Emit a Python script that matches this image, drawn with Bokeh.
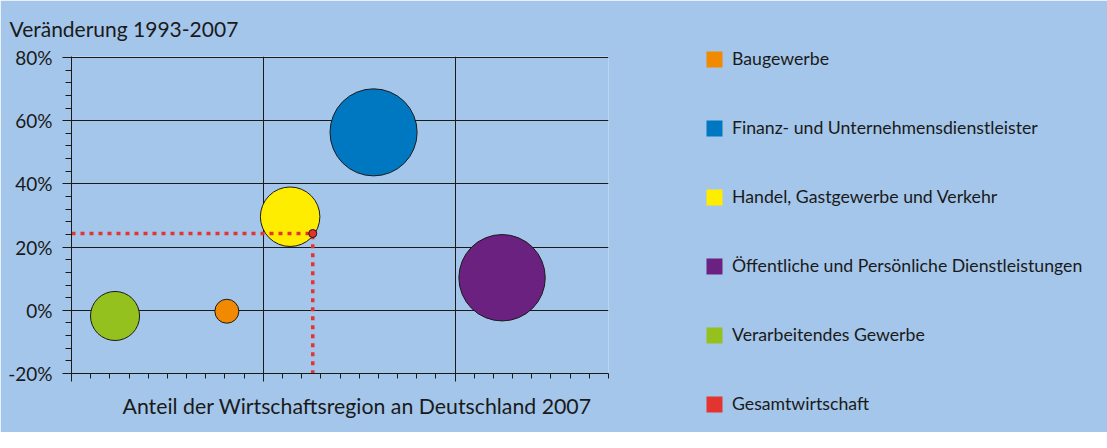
from math import sqrt
from bokeh.plotting import figure
from bokeh.models import (Legend, LegendItem, Title, FixedTicker, PrintfTickFormatter,
                          CustomJSTickFormatter, Range1d)
from bokeh.embed import file_html
from bokeh.resources import INLINE

# ---- data ----
categories = ["Baugewerbe",
              "Finanz- und Unternehmensdienstleister",
              "Handel, Gastgewerbe und Verkehr",
              "Öffentliche und Persönliche Dienstleistungen",
              "Verarbeitendes Gewerbe"]
anteil = [0.81, 1.575, 1.14, 2.245, 0.227]          # x (axis units, unlabeled)
veraenderung = [-0.3, 56.3, 29.6, 10.3, -1.8]       # y (%)
gewicht = [2.7, 35.6, 16.6, 35.0, 11.3]             # bubble weight
colors = ["#f18a00", "#0078c1", "#ffed00", "#6b2180", "#95c11f"]

gesamt_name = "Gesamtwirtschaft"
gesamt_anteil = 1.258
gesamt_veraenderung = 24.3
gesamt_color = "#e3342f"

y_ticks = [-20, 0, 20, 40, 60, 80]
x_ticks = [0, 1, 2]

title_text = "Veränderung 1993-2007"
xlabel_text = "Anteil der Wirtschaftsregion an Deutschland 2007"

BG = "#a4c6ea"
INK = "#1a1a1a"
FONT = "Lato"

p = figure(frame_width=537, frame_height=317,
           x_range=Range1d(0, 2.8), y_range=Range1d(-20, 80.3),
           output_backend="svg", toolbar_location=None,
           min_border_left=71, min_border_right=483, min_border_top=56, min_border_bottom=59,
           background_fill_color=BG, border_fill_color=BG, outline_line_color=None)

# axes
p.xaxis.ticker = FixedTicker(ticks=x_ticks, minor_ticks=[i / 10 for i in range(29)])
p.xaxis.formatter = CustomJSTickFormatter(code="return ''")
p.xaxis.major_tick_out = 8
p.xaxis.major_tick_in = 0
p.xaxis.minor_tick_out = 5
p.xaxis.minor_tick_in = 0
p.xaxis.major_label_text_font_size = "1px"
p.yaxis.ticker = FixedTicker(ticks=y_ticks, minor_ticks=list(range(-20, 81, 4)))
p.yaxis.formatter = PrintfTickFormatter(format="%d%%")
p.yaxis.major_tick_out = 9
p.yaxis.major_tick_in = 0
p.yaxis.minor_tick_out = 6
p.yaxis.minor_tick_in = 0
p.yaxis.major_label_standoff = 10
p.yaxis.major_label_text_font = FONT
p.yaxis.major_label_text_font_size = "19px"
p.yaxis.major_label_text_color = INK
for ax in (p.xaxis, p.yaxis):
    ax.axis_line_color = INK
    ax.major_tick_line_color = INK
    ax.minor_tick_line_color = INK

p.xgrid.ticker = FixedTicker(ticks=x_ticks)
p.ygrid.ticker = FixedTicker(ticks=y_ticks)
p.grid.grid_line_color = INK
p.grid.grid_line_width = 1

# legend swatch renderers (zero-area quads sitting under each point)
swatches = []
for xv, yv, c in zip(anteil + [gesamt_anteil], veraenderung + [gesamt_veraenderung],
                     colors + [gesamt_color]):
    swatches.append(p.quad(left=[xv], right=[xv], top=[yv], bottom=[yv],
                           fill_color=c, line_color=None))

# bubbles
sizes = [14.6 * sqrt(w) for w in gewicht]
p.scatter(x=anteil, y=veraenderung, size=sizes, fill_color=colors,
          line_color=INK, line_width=1)

# dotted reference lines to Gesamtwirtschaft
p.line(x=[p.x_range.start, gesamt_anteil, gesamt_anteil],
       y=[gesamt_veraenderung, gesamt_veraenderung, p.y_range.start],
       line_color=gesamt_color, line_width=3.5, line_dash="4 5")
p.scatter(x=[gesamt_anteil], y=[gesamt_veraenderung], size=8,
          fill_color=gesamt_color, line_color=INK, line_width=1)

# category legend in the right panel
items = [LegendItem(label=n, renderers=[r])
         for n, r in zip(categories + [gesamt_name], swatches)]
legend = Legend(items=items, location=(96, -41), orientation="vertical",
                glyph_width=20, glyph_height=20, label_height=20, spacing=48,
                padding=0, margin=0, label_standoff=8,
                background_fill_alpha=0, border_line_color=None,
                label_text_font=FONT, label_text_font_size="17.7px", label_text_color=INK)
p.add_layout(legend, "right")

# y caption (top left)
p.add_layout(Title(text=title_text, align="left", offset=-62, vertical_align="top",
                   standoff=28, text_font=FONT, text_font_size="21px",
                   text_font_style="normal", text_color=INK), "above")

# x caption (bottom)
p.add_layout(Title(text=xlabel_text, align="left", offset=51, vertical_align="top",
                   standoff=22, text_font=FONT, text_font_size="21.3px",
                   text_font_style="normal", text_color=INK), "below")

open("out.html", "w").write(file_html(p, INLINE))
